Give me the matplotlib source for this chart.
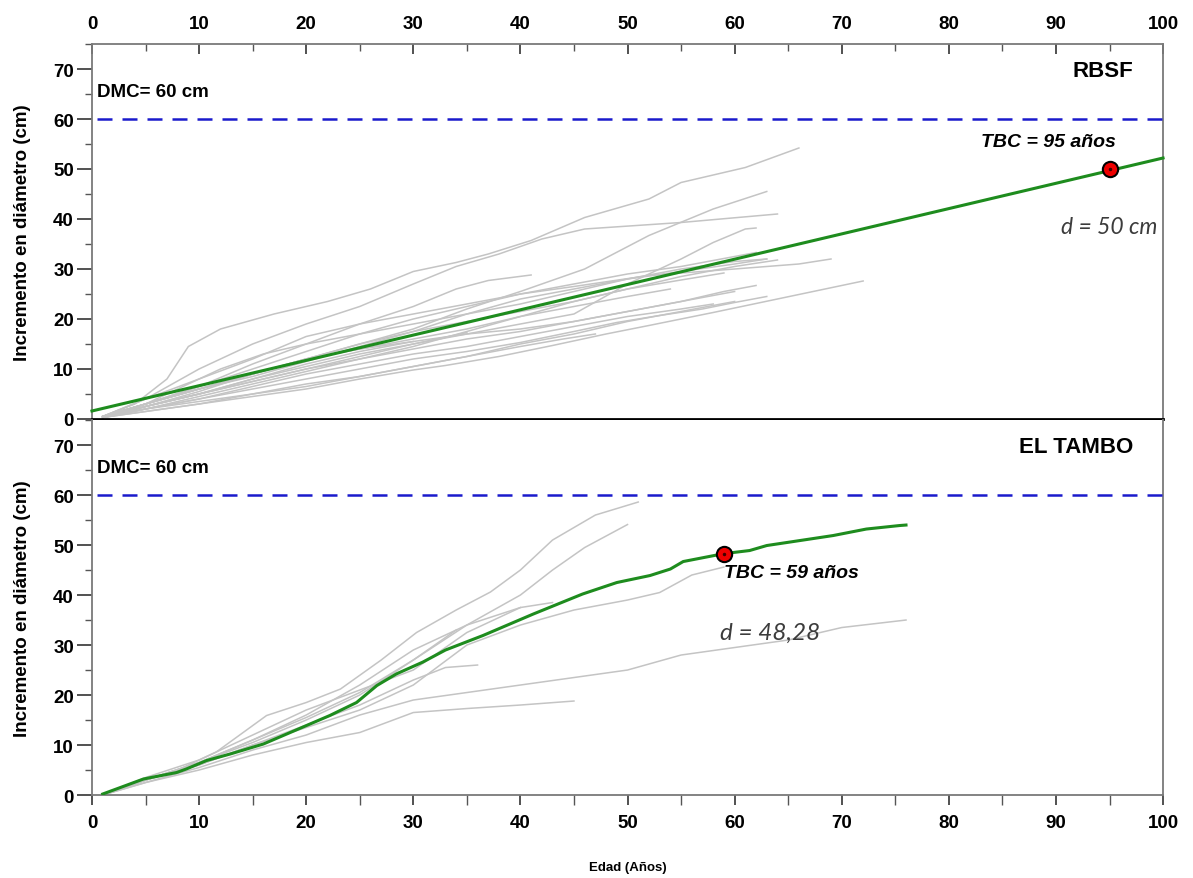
import numpy as np
import matplotlib
matplotlib.use('Agg')
from matplotlib import pyplot as plt
from matplotlib.ticker import MultipleLocator

plt.rcParams['font.family'] = ['Liberation Sans', 'DejaVu Sans']
plt.rcParams['font.weight'] = 'bold'

# --- RBSF: crecimiento acumulado de cada arbol (edad, diametro) ---
rbsf_edad = [
    [1, 4, 7, 9, 12, 17, 22, 26, 30, 34, 37, 41, 46, 52, 55, 61, 66],
    [1, 5, 10, 15, 20, 25, 30, 34, 38, 42, 46, 55, 64],
    [1, 5, 10, 15, 20, 25, 30, 35, 40, 46, 52, 58, 63],
    [1, 5, 10, 15, 20, 25, 30, 35, 40, 45, 50, 55, 58, 61, 62],
    [1, 5, 10, 15, 20, 25, 30, 35, 40, 45, 52, 60, 66, 69],
    [1, 5, 10, 15, 20, 25, 30, 33, 38, 43, 48, 52, 58, 64, 68, 72],
    [1, 5, 10, 15, 20, 25, 30, 34, 37, 41],
    [1, 5, 10, 15, 20, 25, 30, 35, 40, 45, 49, 53, 57, 60, 63],
    [1, 5, 10, 15, 20, 25, 30, 35, 40, 45, 50, 55, 59, 62],
    [1, 5, 10, 15, 20, 25, 30, 35, 40, 45, 50, 55, 60],
    [1, 5, 10, 15, 20, 25, 30, 35, 40, 45, 50, 55, 59],
    [1, 5, 10, 15, 20, 25, 30, 35, 40, 44, 47],
    [1, 5, 10, 15, 20, 25, 30, 35],
    [1, 5, 10, 15, 20, 25, 30, 35, 40, 45, 50, 55, 60, 62],
    [1, 5, 10, 15, 20, 25, 30, 35, 40, 45, 50, 55, 60, 64],
    [1, 5, 10, 15, 20, 25, 30, 35, 40, 45, 50, 55, 60, 63],
    [1, 5, 10, 15, 20, 25, 30, 35, 40, 45, 50, 55, 60],
    [1, 5, 10, 15, 20, 25, 30],
    [1, 5, 8, 12, 16, 20, 25, 30, 35, 40, 45, 50, 55, 60, 63],
    [1, 5, 10, 15, 20, 25, 30, 35, 40, 45, 50, 55, 58],
    [1, 5, 10, 15, 20, 25, 30, 35, 40, 45, 50, 54],
]
rbsf_diam = [
    [0.5, 3, 8, 14.5, 18, 21, 23.5, 26, 29.5, 31.3, 33, 35.7, 40.3, 44, 47.3, 50.3, 54.2],
    [0.5, 4, 10, 15, 19, 22.5, 27, 30.5, 33, 36, 38, 39.3, 41],
    [0.5, 3, 6, 9, 12, 15, 18, 22, 25.5, 30, 36.7, 42, 45.5],
    [0.5, 2.5, 5, 8, 10.5, 13, 15, 17, 19, 21, 27, 32, 35.3, 38, 38.2],
    [0.5, 3, 6.5, 10, 13.5, 17, 20, 22.5, 25, 26.5, 28.7, 30, 31, 32],
    [0.3, 1.5, 3, 4.5, 6, 8, 9.8, 10.7, 12.5, 14.7, 17, 18.7, 21.3, 24, 25.8, 27.6],
    [0.5, 3, 6.5, 11, 15, 19, 22.5, 26, 27.7, 28.8],
    [0.3, 2, 4, 6, 8, 10, 12, 13.5, 15.3, 17.5, 19.3, 20.7, 22, 23.3, 24.5],
    [0.3, 2.5, 5, 7.5, 10, 12, 14, 16, 17.5, 19.5, 21.5, 23.5, 25.5, 26.7],
    [0.3, 2.5, 5, 8, 11, 13.5, 15.5, 17, 18, 19.5, 21.5, 23.5, 25.5],
    [0.5, 3, 6, 9, 12, 15, 17.5, 19.5, 21.5, 23.5, 26, 27.8, 29.2],
    [0.3, 2, 3.5, 5, 7, 8.5, 10.5, 12.5, 14.5, 16, 17],
    [0.3, 2.5, 5, 7.5, 10, 12.5, 15, 17.3],
    [0.5, 4, 8, 12, 16.5, 19, 21, 23, 25, 27, 29, 30.5, 32.5, 33.3],
    [0.3, 2, 4.5, 7, 9.5, 12, 14.5, 17.5, 20.5, 23.5, 26, 28.5, 30.5, 31.8],
    [0.5, 3, 6, 8.5, 11.5, 14.5, 17.5, 21, 24, 26, 28, 29.5, 31, 32],
    [0.3, 1.5, 3, 5, 6.5, 8.5, 10.5, 12.5, 15, 17, 19.5, 21.5, 23.5],
    [0.3, 3, 6, 9, 12, 14, 15.5],
    [0.5, 3, 6, 10, 13, 15, 17, 19, 21, 23, 25.5, 28, 30, 31.5, 32],
    [0.3, 2, 4, 6.5, 9, 11, 13, 14.5, 16.5, 18.5, 20.5, 22, 23],
    [0.3, 2.5, 5.5, 9, 12, 14, 16, 18, 20.5, 22.5, 24.5, 26],
]

# modelo lineal RBSF
rbsf_modelo_edad = [0, 100]
rbsf_modelo_diam = [1.6, 52.2]
rbsf_tbc = 95
rbsf_d = 50

# --- EL TAMBO ---
tambo_edad = [
    [1, 5, 8, 11.6, 16.3, 20, 23.2, 27, 30.3, 34, 37.2, 40, 43, 47, 51],
    [1, 5, 10, 15, 20, 25, 30, 35, 40, 43, 46, 50],
    [1, 5, 10, 15, 20, 25, 30, 35, 40, 45, 50, 53, 56, 59],
    [1, 5, 10, 15, 20, 25, 30, 35, 40, 45, 50, 55, 60, 65, 70, 76],
    [1, 5, 10, 15, 20, 25, 30, 35, 40, 45],
    [1, 5, 10, 15, 20, 25, 30, 33, 36],
    [1, 5, 10, 15, 20, 25, 30, 35, 40, 43],
    [1, 5, 10, 15, 20, 25, 30, 35, 40],
    [1, 5, 10, 15, 20, 25, 30, 34],
]
tambo_diam = [
    [0, 3, 5, 8.6, 15.9, 18.5, 21.2, 27, 32.5, 37, 40.6, 45, 51, 56, 58.6],
    [0, 3, 6.5, 11, 15.5, 20.5, 27, 34, 40, 45, 49.5, 54.1],
    [0, 3, 6, 10, 13.5, 17, 22, 30, 34, 37, 39, 40.5, 44, 45.6],
    [0, 2.5, 5.5, 9, 12, 16, 19, 20.5, 22, 23.5, 25, 28, 29.5, 31, 33.5, 35],
    [0, 2.5, 5, 8, 10.5, 12.5, 16.5, 17.3, 18, 18.8],
    [0, 3, 6, 10, 14, 18, 23, 25.5, 26],
    [0, 3, 6.5, 11, 16, 22, 29, 34, 37.5, 38.5],
    [0, 3.5, 7, 12, 17, 21, 25, 32.5, 37.5],
    [0, 3, 6.5, 10.5, 15, 20, 27, 33],
]
tambo_media_edad = [1, 4.8, 7.9, 8.8, 10.7, 12.9, 16, 19.7, 22.2, 24.7, 26.6, 28.4,
                    30.9, 33, 36.5, 41.2, 45.8, 49, 52.1, 54, 55.2, 59, 61.4, 63,
                    66.1, 69.2, 72.3, 75.4, 76]
tambo_media_diam = [0.2, 3.2, 4.5, 5.2, 6.9, 8.2, 10.2, 13.6, 15.9, 18.5, 21.9, 24.2,
                    26.6, 29, 31.9, 36.2, 40.2, 42.5, 43.9, 45.2, 46.7, 48.28, 48.9, 49.9,
                    50.9, 51.9, 53.2, 53.9, 54]
tambo_tbc = 59
tambo_d = 48.28

dmc = 60


def panel(ax, edades, diams, nombre):
    for x, y in zip(edades, diams):
        ax.plot(x, y, color='#c4c4c4', lw=1.1, zorder=2)
    ax.axhline(dmc, xmin=0.005, color='#1a1acc', lw=1.8, dashes=(6, 4), zorder=3)
    ax.text(0.5, 65.6, 'DMC= {} cm'.format(dmc), fontsize=13.5, fontweight='bold',
            ha='left', va='center')
    ax.text(97.2, 69.8, nombre, fontsize=16, fontweight='bold', ha='right', va='center')
    ax.set_xlim(0, 100)
    ax.set_ylim(0, 75)
    ax.yaxis.set_major_locator(MultipleLocator(10))
    ax.yaxis.set_minor_locator(MultipleLocator(5))
    ax.xaxis.set_major_locator(MultipleLocator(10))
    ax.xaxis.set_minor_locator(MultipleLocator(5))
    ax.tick_params(axis='y', which='major', direction='out', length=11, width=1.2,
                   labelsize=13.5, pad=2, color='#333333')
    ax.tick_params(axis='y', which='minor', direction='out', length=5, width=1,
                   color='#555555')
    ax.tick_params(right=False, which='both')
    for lab in ax.get_yticklabels():
        lab.set_fontweight('bold')
    for s in ['left', 'right', 'top', 'bottom']:
        ax.spines[s].set_color('#7a7a7a')
        ax.spines[s].set_linewidth(1.3)
    ax.set_ylabel('Incremento en diámetro (cm)', fontsize=13.5, fontweight='bold',
                  labelpad=16)


fig = plt.figure(figsize=(11.93, 8.79), dpi=100)
ax1 = fig.add_axes([0.0771, 0.5222, 0.8978, 0.4266])
ax2 = fig.add_axes([0.0771, 0.0944, 0.8978, 0.4266])

# RBSF
panel(ax1, rbsf_edad, rbsf_diam, 'RBSF')
ax1.plot(rbsf_modelo_edad, rbsf_modelo_diam, color='#1e8c1e', lw=2.2, zorder=4,
         clip_on=False)
ax1.plot(rbsf_tbc, rbsf_d, 'o', ms=11, mfc='#ee0000', mec='black', mew=1.5, zorder=5)
ax1.plot(rbsf_tbc, rbsf_d, '.', ms=3, color='#400000', zorder=6)
ax1.text(89.3, 55.4, 'TBC = {} años'.format(rbsf_tbc), fontsize=14,
         fontweight='bold', style='italic', ha='center', va='center')
ax1.text(95.0, 38.4, 'd = {} cm'.format(rbsf_d), fontsize=16.5, style='italic',
         fontweight='normal', family=['Lato', 'DejaVu Sans'], color='#3c3c3c',
         ha='center', va='center')
ax1.xaxis.tick_top()
ax1.tick_params(axis='x', which='major', direction='in', length=7, width=1.2,
                labelsize=13.5, pad=9, color='#333333')
ax1.tick_params(axis='x', which='minor', direction='in', length=5, width=1,
                color='#555555')
ax1.tick_params(axis='x', bottom=False, which='both')
for lab in ax1.get_xticklabels():
    lab.set_fontweight('bold')
ax1.spines['bottom'].set_color('black')
ax1.spines['bottom'].set_linewidth(2)
ax1.spines['bottom'].set_zorder(6)

# EL TAMBO
panel(ax2, tambo_edad, tambo_diam, 'EL TAMBO')
ax2.plot(tambo_media_edad, tambo_media_diam, color='#1e8c1e', lw=2.2, zorder=4)
ax2.plot(tambo_tbc, tambo_d, 'o', ms=11, mfc='#ee0000', mec='black', mew=1.5, zorder=5)
ax2.plot(tambo_tbc, tambo_d, '.', ms=3, color='#400000', zorder=6)
ax2.text(65.3, 44.6, 'TBC = {} años'.format(tambo_tbc), fontsize=14,
         fontweight='bold', style='italic', ha='center', va='center')
ax2.text(63.3, 32.6, 'd = {}'.format(str(tambo_d).replace('.', ',')), fontsize=17.5,
         style='italic', fontweight='normal', family=['Lato', 'DejaVu Sans'],
         color='#3c3c3c', ha='center', va='center')
ax2.spines['top'].set_visible(False)
ax2.tick_params(axis='x', which='major', direction='out', length=7, width=1.2,
                labelsize=13.5, pad=7, color='#333333')
ax2.tick_params(axis='x', which='minor', direction='out', length=7, width=1,
                color='#555555')
ax2.tick_params(axis='x', top=False, which='both')
for lab in ax2.get_xticklabels():
    lab.set_fontweight('bold')
ax2.set_xlabel('Edad (Años)', fontsize=9.5, fontweight='bold', labelpad=21)

fig.savefig('out.png', dpi=100)
